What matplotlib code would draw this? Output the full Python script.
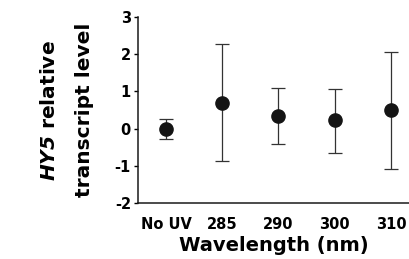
import matplotlib
matplotlib.use("Agg")
import matplotlib.pyplot as plt
import numpy as np

plt.rcParams['font.family'] = 'DejaVu Sans'
plt.rcParams['mathtext.fontset'] = 'custom'
plt.rcParams['mathtext.bfit'] = 'DejaVu Sans:bold:italic'
plt.rcParams['axes.unicode_minus'] = False

# data
labels = ["No UV", "285", "290", "300", "310"]
means = [-0.02, 0.70, 0.35, 0.23, 0.50]
upper = [0.25, 2.27, 1.10, 1.08, 2.07]
lower = [-0.29, -0.87, -0.42, -0.65, -1.09]

x = np.arange(len(labels))
err = [np.array(means) - np.array(lower), np.array(upper) - np.array(means)]

fig = plt.figure(figsize=(4.09, 2.59), dpi=100)
ax = fig.add_axes((0.337, 0.216, 0.663, 0.718))

ax.errorbar(x, means, yerr=err, fmt='o', color='#141414', ecolor='#333333',
            markersize=9.5, elinewidth=0.9, capsize=5, capthick=0.9)

ax.set_xlim(-0.5, 4.32)
ax.set_ylim(-2, 3)
ax.set_yticks([-2, -1, 0, 1, 2, 3])
ax.set_xticks(x)
ax.set_xticklabels(labels, fontsize=10.5, fontweight='bold')
ax.tick_params(axis='x', length=0, pad=10)
ax.tick_params(axis='y', length=3, width=1, labelsize=10.5, pad=2)
for t in ax.get_yticklabels():
    t.set_fontweight('bold')

for s in ['top', 'right']:
    ax.spines[s].set_visible(False)
for s in ['left', 'bottom']:
    ax.spines[s].set_linewidth(1.1)
    ax.spines[s].set_color('#1a1a1a')

ax.set_xlabel("Wavelength (nm)", fontsize=14, fontweight='bold', labelpad=3)
fig.text(0.122, 0.575, r"$\mathbfit{HY5}$ relative", rotation=90, fontsize=14.5,
         fontweight='bold', ha='center', va='center')
fig.text(0.207, 0.575, "transcript level", rotation=90, fontsize=14.5,
         fontweight='bold', ha='center', va='center')

fig.savefig("out.png", dpi=100)
